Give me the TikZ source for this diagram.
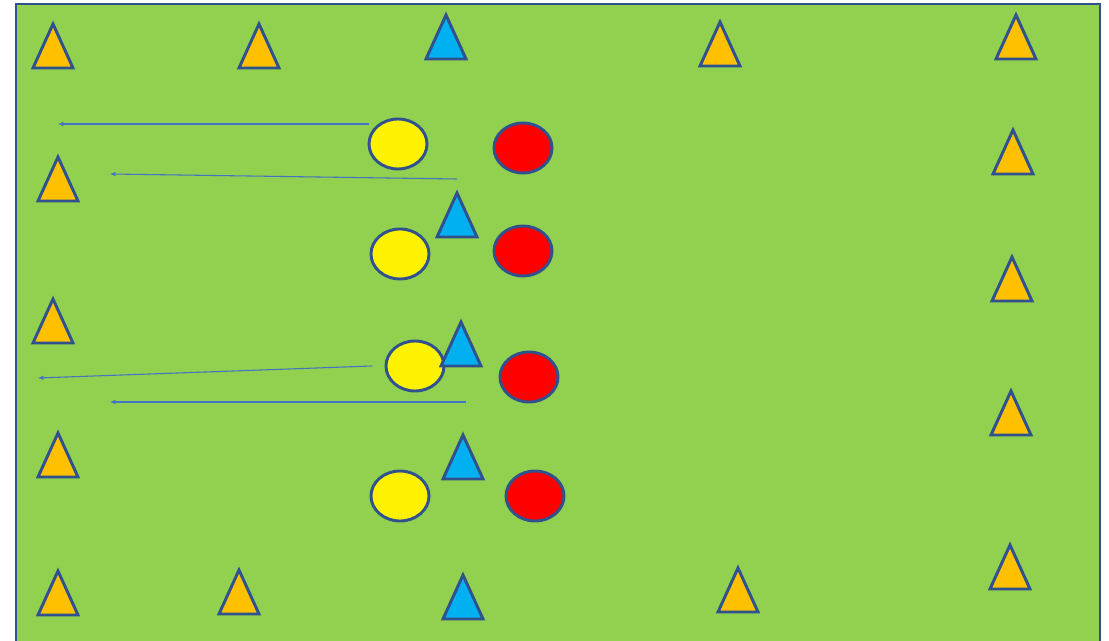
\documentclass[tikz,border=0pt]{standalone}
\usetikzlibrary{arrows.meta}

\definecolor{pitch}{HTML}{92D050}
\definecolor{rim}{HTML}{2F528F}
\definecolor{conecol}{HTML}{FFC000}
\definecolor{markcol}{HTML}{00B0F0}
\definecolor{runcol}{HTML}{4472C4}

\tikzset{
    rimline/.style={draw=rim, line width=2.2pt},
    run/.style={->, runcol, line width=0.8pt},
    pics/cone/.style={
        code={\draw[rimline, line join=miter, fill=#1] (0,-22) -- (20,22) -- (-20,22) -- cycle;}
    },
    player/.style={rimline, fill=#1}
}

\begin{document}
\begin{tikzpicture}[x=0.75pt, y=-0.75pt, >={Latex[length=4pt,width=3.5pt]}]
    \clip (0,0) rectangle (1109,641);

    % Pitch
    \draw[rimline, fill=pitch] (16,4) rectangle (1100,700);

    % Runs to the left
    \coordinate (r1s) at (369,124);  \coordinate (r1e) at (58,124);
    \coordinate (r2s) at (457,179);  \coordinate (r2e) at (110,174);
    \coordinate (r3s) at (372,366);  \coordinate (r3e) at (38,378);
    \coordinate (r4s) at (466,402);  \coordinate (r4e) at (110,402);
    \draw[run] (r1s) -- (r1e);
    \draw[run] (r2s) -- (r2e);
    \draw[run] (r3s) -- (r3e);
    \draw[run] (r4s) -- (r4e);

    % Players: yellow and red
    \draw[player=yellow] (398,144) ellipse (29 and 25);
    \draw[player=yellow] (400,254) ellipse (29 and 25);
    \draw[player=yellow] (415,366) ellipse (29 and 25);
    \draw[player=yellow] (400,496) ellipse (29 and 25);
    \draw[player=red] (523,148) ellipse (29 and 25);
    \draw[player=red] (523,251) ellipse (29 and 25);
    \draw[player=red] (529,377) ellipse (29 and 25);
    \draw[player=red] (535,496) ellipse (29 and 25);

    % Outer cones
    \foreach \x/\y in {53/46, 259/46, 720/44, 1016/37,
                       58/179, 53/321, 58/455, 58/593,
                       239/592, 738/590,
                       1013/152, 1012/279, 1011/413, 1010/567}
        \pic at (\x,\y) {cone=conecol};

    % Blue markers
    \foreach \x/\y in {446/37, 457/215, 461/344, 463/457, 463/597}
        \pic at (\x,\y) {cone=markcol};
\end{tikzpicture}
\end{document}
